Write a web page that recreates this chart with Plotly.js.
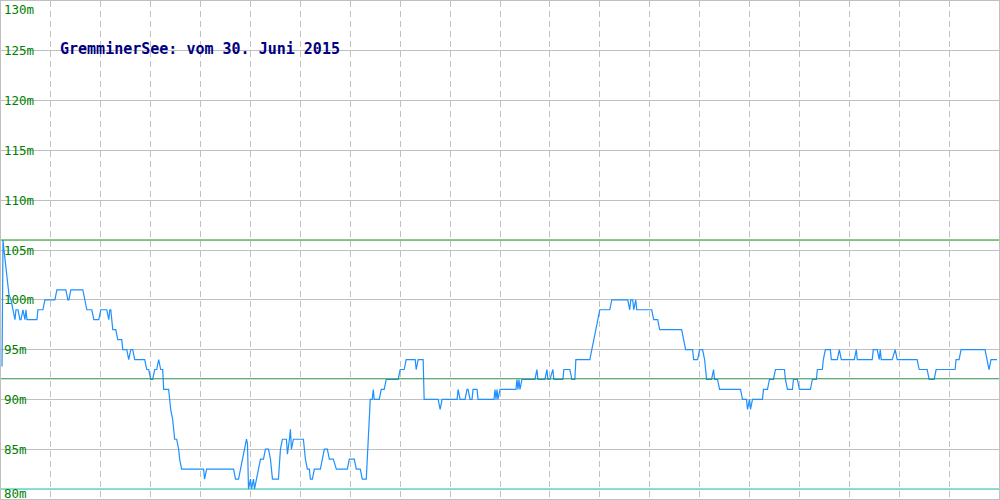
<!DOCTYPE html>
<html><head><meta charset="utf-8">
<script src="https://cdn.plot.ly/plotly-3.0.1.min.js"></script>
<style>html,body{margin:0;padding:0;background:#fff}#c{width:1000px;height:500px}</style>
</head><body><div id="c"></div>
<script>
const titleText = "GremminerSee: vom 30. Juni 2015";
const tickValues = [80, 85, 90, 95, 100, 105, 110, 115, 120, 125, 130];
const refHigh = 106;
const refMid = 92.07;
const refLow = 81;
const samplePos = [1,2,3,5,7,8,10,12,14,15,17,19,20,22,24,25,26,36,37,42,44,54,56,65,67,68,70,82,84,86,91,93,98,100,106,108,109,110,112,115,117,121,122,126,128,130,132,134,144,146,148,150,152,154,156,158,160,162,163,168,170,172,174,176,178,179,181,203,204,206,233,235,238,240,242,244,246,247,248,250,251,253,254,256,258,260,263,265,268,270,272,278,280,282,286,287,289,290,291,293,303,305,307,309,310,312,314,320,322,324,327,329,333,336,347,349,354,356,360,362,366,367,368,370,372,373,374,379,381,384,386,398,400,404,406,415,416,418,423,424,438,440,442,457,458,460,465,467,468,470,472,473,477,478,494,495,496,497,498,500,516,517,518,519,520,522,535,537,538,545,547,548,550,553,554,563,564,570,572,575,576,590,592,594,596,598,600,610,612,628,630,631,633,634,636,637,640,652,654,658,660,682,684,686,693,694,698,700,703,705,707,712,714,715,718,720,741,743,747,748,750,751,753,763,764,768,770,774,776,785,786,788,793,794,798,800,811,813,817,818,823,824,826,831,832,838,840,842,855,857,858,873,874,878,880,881,882,893,896,898,918,920,928,930,935,937,956,957,960,962,986,988,990,992,998];
const levelM = [93.3,106,105,103,101.5,100.5,100,99,98,99,99,98,98,99,98,99,98,98,99,99,100,100,101,101,100,100,101,101,100,99,99,98,98,99,99,98,99,99,97,97,96,96,95,95,94,95,95,94,94,93,93,92,92,93,93,94,93,93,91,91,89,88,86,86,85,84,83,83,82,83,83,82,82,83,84,85,86,85.5,81,82,81,82,81,82,83,84,84,85,85,84,82,82,85,86,86,84.5,86,87,85,86,86,84,83,83,82,82,83,83,84,85,85,84,84,83,83,84,84,83,83,82,82,84,86,90,90,91,90,90,91,91,92,92,93,93,94,94,93,94,94,90,90,89,90,90,91,90,90,91,91,90,90,91,91,90,90,91,90,91,90,91,91,92,91,92,91,92,92,93,92,92,93,92,92,93,92,92,93,93,92,92,94,94,95,96,97,98,99,99,100,100,99,100,100,99,100,99,99,99,98,98,97,97,96,95,95,94,94,95,95,94,92,92,93,92,92,91,91,90,90,89,90,89,90,90,91,91,92,92,93,93,92,91,91,92,92,91,91,92,92,93,93,94,95,95,94,94,95,94,94,95,94,94,95,95,94,95,94,94,95,94,94,93,93,92,92,93,93,94,94,95,95,94,93,94,94];

const mono = "DejaVu Sans Mono, monospace";
const annotations = tickValues.map(v => {
  let shift = 0;
  if (v === 130) shift = -8;
  if (v === 80) shift = 6;
  return {x: 0, xref: 'paper', xanchor: 'left', xshift: 1, y: v, yref: 'y', yanchor: 'middle', yshift: shift,
    text: v + 'm', showarrow: false, font: {family: mono, size: 12.5, color: '#008000'}};
});
annotations.push({x: 0, xref: 'paper', xanchor: 'left', xshift: 57, y: 125, yref: 'y', yanchor: 'middle', yshift: 2,
  text: '<b>' + titleText + '</b>', showarrow: false, font: {family: mono, size: 15, color: '#000080'}});

const hline = (v, c) => ({type: 'line', xref: 'paper', x0: 0, x1: 1, yref: 'y', y0: v, y1: v, line: {color: c, width: 1}});

Plotly.newPlot('c', [{
  x: samplePos, y: levelM, type: 'scatter', mode: 'lines',
  line: {color: '#1e90ff', width: 1.2}, hoverinfo: 'skip'
}], {
  width: 1000, height: 500,
  margin: {l: 1, r: 1, t: 1, b: 1},
  paper_bgcolor: '#fff', plot_bgcolor: '#fff',
  showlegend: false,
  xaxis: {range: [0, 1000], tickvals: [50,100,150,200,250,300,350,400,450,500,550,600,650,700,750,800,850,900,950],
    showticklabels: false, ticks: '', showgrid: true, gridcolor: '#c0c0c0', gridwidth: 1, griddash: '6px,4px',
    zeroline: false, showline: true, mirror: true, linecolor: '#c0c0c0', linewidth: 1},
  yaxis: {range: [80, 130], tickvals: tickValues, showticklabels: false, ticks: '',
    showgrid: true, gridcolor: '#c0c0c0', gridwidth: 1, zeroline: false,
    showline: true, mirror: true, linecolor: '#c0c0c0', linewidth: 1},
  shapes: [hline(refHigh, '#128a12'), hline(refMid, '#2f8f50'), hline(refLow, '#14b8a8')],
  annotations: annotations
}, {staticPlot: true});
</script></body></html>
